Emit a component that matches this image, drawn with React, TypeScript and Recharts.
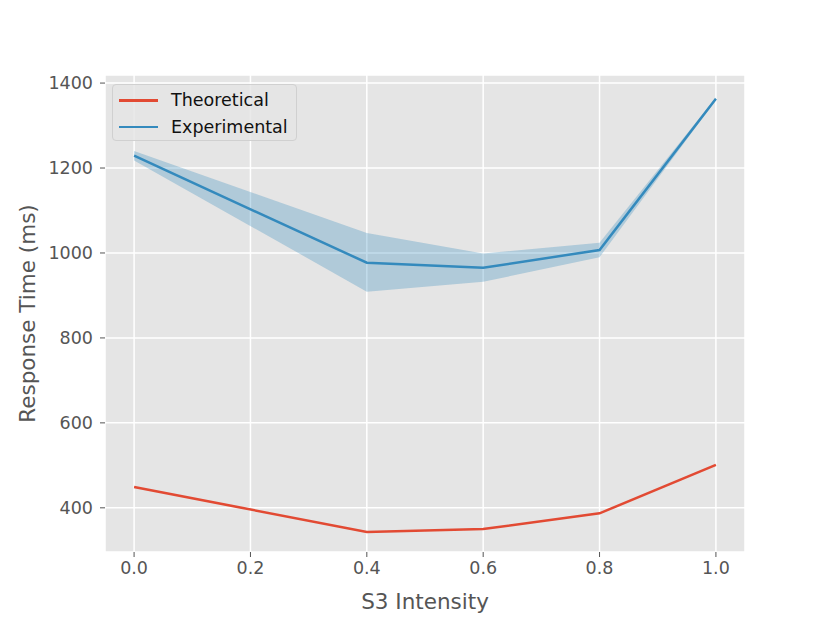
import React from "react";
import {
  ComposedChart,
  Line,
  Area,
  XAxis,
  YAxis,
  CartesianGrid,
  Label,
} from "recharts";

const intensities = [0, 0.4, 0.6, 0.8, 1.0];
const theoretical = [449, 343, 350, 387, 501];
const experimental = [1229, 977, 965, 1007, 1363];
const expLow = [1218, 909, 932, 990, 1360];
const expHigh = [1240, 1047, 999, 1024, 1366];
const xTicks = [0, 0.2, 0.4, 0.6, 0.8, 1.0];
const yTicks = [400, 600, 800, 1000, 1200, 1400];
const seriesNames = ["Theoretical", "Experimental"];

const data = intensities.map((x, i) => ({
  x,
  theoretical: theoretical[i],
  experimental: experimental[i],
  band: [expLow[i], expHigh[i]],
}));

const RED = "#E24A33";
const BLUE = "#348ABD";
const FONT = "DejaVu Sans";
const seriesColors = [RED, BLUE];

const LegendBox = () => (
  <div
    style={{
      position: "absolute",
      left: 112,
      top: 84,
      background: "rgba(229,229,229,0.8)",
      border: "1px solid #d0d0d0",
      borderRadius: 4,
      padding: "2px 7px 2px 6px",
      fontFamily: FONT,
      fontSize: 17.5,
      color: "#111",
      width: 185,
      height: 57,
      boxSizing: "border-box",
    }}
  >
    {seriesNames.map((name, i) => (
      <div key={name} style={{ display: "flex", alignItems: "center", height: 26.5 }}>
        <div style={{ width: 39, height: 2.5, background: seriesColors[i], marginRight: 13 }} />
        <span>{name}</span>
      </div>
    ))}
  </div>
);

const XLabel = (props: any) => {
  const vb = props.viewBox || {};
  return (
    <text
      x={vb.x + vb.width / 2}
      y={601}
      textAnchor="middle"
      dominantBaseline="central"
      fill="#555"
      fontSize={21.5}
      fontFamily={FONT}
    >
      S3 Intensity
    </text>
  );
};

const YLabel = (props: any) => {
  const vb = props.viewBox || {};
  const cx = 27;
  const cy = vb.y + vb.height / 2;
  return (
    <text
      x={cx}
      y={cy}
      transform={`rotate(-90 ${cx} ${cy})`}
      textAnchor="middle"
      dominantBaseline="central"
      fill="#555"
      fontSize={21.5}
      fontFamily={FONT}
    >
      Response Time (ms)
    </text>
  );
};

export default function App() {
  return (
    <div style={{ position: "absolute", left: 0, top: 0, width: 830, height: 623, background: "#fff" }}>
      <ComposedChart
        width={830}
        height={623}
        data={data}
        margin={{ top: 75, right: 85, bottom: 0, left: 40 }}
      >
        <CartesianGrid stroke="#ffffff" strokeWidth={1.5} fill="#E5E5E5" fillOpacity={1} />
        <XAxis
          dataKey="x"
          type="number"
          domain={[-0.05, 1.05]}
          ticks={xTicks}
          tickFormatter={(v: number) => v.toFixed(1)}
          axisLine={false}
          tickLine={{ stroke: "#555", strokeWidth: 1 }}
          tickSize={5}
          tick={{ fill: "#555", fontSize: 17.5, fontFamily: FONT }}
          tickMargin={5}
          height={71}
        >
          <Label content={<XLabel />} />
        </XAxis>
        <YAxis
          type="number"
          domain={[296, 1419]}
          ticks={yTicks}
          axisLine={false}
          tickLine={{ stroke: "#555", strokeWidth: 1 }}
          tickSize={5}
          tick={{ fill: "#555", fontSize: 17.5, fontFamily: FONT }}
          tickMargin={7}
          width={65}
          allowDataOverflow
        >
          <Label content={<YLabel />} />
        </YAxis>
        <Area
          dataKey="band"
          stroke="none"
          fill={BLUE}
          fillOpacity={0.3}
          isAnimationActive={false}
          legendType="none"
        />
        <Line
          dataKey="theoretical"
          name={seriesNames[0]}
          stroke={RED}
          strokeWidth={2.5}
          dot={false}
          isAnimationActive={false}
        />
        <Line
          dataKey="experimental"
          name={seriesNames[1]}
          stroke={BLUE}
          strokeWidth={2.5}
          dot={false}
          isAnimationActive={false}
        />
      </ComposedChart>
      <LegendBox />
    </div>
  );
}
